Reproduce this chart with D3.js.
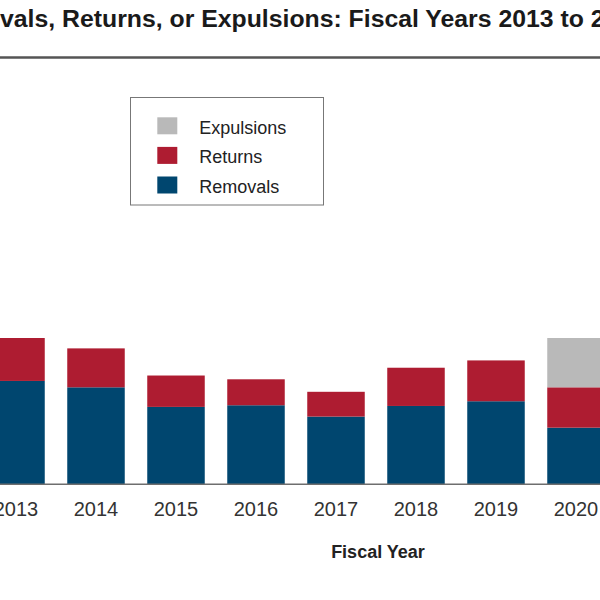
<!DOCTYPE html>
<html>
<head>
<meta charset="utf-8">
<script src="https://cdn.jsdelivr.net/npm/d3@7"></script>
<style>
  html, body { margin: 0; padding: 0; background: #fff; }
  svg { display: block; }
</style>
</head>
<body>
<svg id="chart" width="600" height="600"></svg>
<script>
// ---- Data (thousands) ----
const years = ["2013", "2014", "2015", "2016", "2017", "2018", "2019", "2020"];
const removals = [438, 411, 328, 335, 287, 332, 352, 240];
const returns = [182, 165, 133, 110, 105, 162, 173, 171];
const expulsions = [0, 0, 0, 0, 0, 0, 0, 209];
const seriesNames = ["Removals", "Returns", "Expulsions"];
const legendOrder = ["Expulsions", "Returns", "Removals"];
const titleText = "Removals, Returns, or Expulsions: Fiscal Years 2013 to 2020";
const xTitle = "Fiscal Year";

const colors = { Removals: "#00466f", Returns: "#ae1c31", Expulsions: "#b9b9b9" };

const rows = years.map((y, i) => ({ year: y, Removals: removals[i], Returns: returns[i], Expulsions: expulsions[i] }));

const svg = d3.select("#chart");

// Scales
const x = d3.scaleBand().domain(years).range([-24, 616]).paddingInner(0.28125).paddingOuter(0.140625);
const y = d3.scaleLinear().domain([0, 620]).range([484.3, 338]);

// Title
const title = svg.append("text")
  .attr("y", 27)
  .attr("font-family", "'Liberation Sans', Arial, sans-serif")
  .attr("font-weight", "bold")
  .attr("font-size", 20)
  .attr("fill", "#1a1a1a")
  .text(titleText);
const tnode = title.node();
const iStart = 4;
const iEnd = titleText.lastIndexOf("2020");
const b = tnode.getSubStringLength(iStart, iEnd - iStart);
const fs = 20 * 591 / b;
title.attr("font-size", fs);
const a = tnode.getSubStringLength(0, iStart);
title.attr("x", -a);

// Rule under title
svg.append("line")
  .attr("x1", 0).attr("x2", 600)
  .attr("y1", 57.5).attr("y2", 57.5)
  .attr("stroke", "#555").attr("stroke-width", 2.5);

// Bars
const stack = d3.stack().keys(seriesNames);
const stacked = stack(rows);
svg.append("g").selectAll("g")
  .data(stacked)
  .join("g")
  .attr("fill", d => colors[d.key])
  .selectAll("rect")
  .data(d => d)
  .join("rect")
  .attr("x", d => x(d.data.year))
  .attr("width", x.bandwidth())
  .attr("y", d => y(d[1]))
  .attr("height", d => y(d[0]) - y(d[1]));

// Baseline
svg.append("line")
  .attr("x1", 0).attr("x2", 600)
  .attr("y1", y(0)).attr("y2", y(0))
  .attr("stroke", "#6e6e6e").attr("stroke-width", 1.5);

// X axis labels
const xAxis = svg.append("g")
  .attr("transform", `translate(0,${y(0)})`)
  .call(d3.axisBottom(x).tickSize(0));
xAxis.select(".domain").remove();
xAxis.selectAll("text")
  .attr("y", 31.7)
  .attr("dy", 0)
  .attr("font-family", "'Liberation Sans', Arial, sans-serif")
  .attr("font-size", 20)
  .attr("fill", "#333");

// X title
svg.append("text")
  .attr("x", 378).attr("y", 558)
  .attr("text-anchor", "middle")
  .attr("font-family", "'Liberation Sans', Arial, sans-serif")
  .attr("font-weight", "bold")
  .attr("font-size", 18)
  .attr("fill", "#222")
  .text(xTitle);

// Legend
const lg = svg.append("g");
lg.append("rect")
  .attr("x", 130.5).attr("y", 97.5)
  .attr("width", 193).attr("height", 107.5)
  .attr("fill", "#fff").attr("stroke", "#777").attr("stroke-width", 1);
const items = lg.selectAll("g.item")
  .data(legendOrder)
  .join("g")
  .attr("class", "item")
  .attr("transform", (d, i) => `translate(0,${i * 29.6})`);
items.append("rect")
  .attr("x", 157.3).attr("y", 117.3)
  .attr("width", 20).attr("height", 17)
  .attr("fill", d => colors[d]);
items.append("text")
  .attr("x", 199.3).attr("y", 133.8)
  .attr("font-family", "'Liberation Sans', Arial, sans-serif")
  .attr("font-size", 18)
  .attr("fill", "#222")
  .text(d => d);
</script>
</body>
</html>
